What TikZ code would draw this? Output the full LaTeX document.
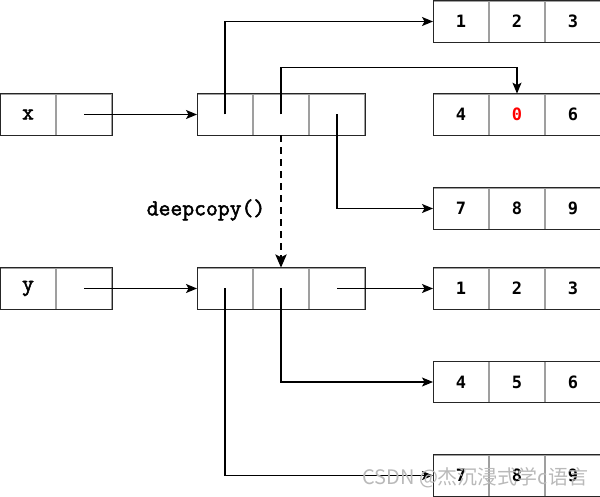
\documentclass[tikz,border=0pt]{standalone}
\usepackage{fontspec}
\newfontfamily\digitfont{DejaVu Sans Mono}
\newfontfamily\codefont{Latin Modern Mono}[FakeBold=2.2]
\newfontfamily\cjk{Noto Sans CJK SC}
\usetikzlibrary{arrows.meta}
\tikzset{
  cell/.style={draw=gray!75, line width=0.7pt, minimum width=55.3pt, minimum height=41pt, inner sep=0pt, anchor=west, font=\digitfont\bfseries\fontsize{17}{17}\selectfont},
  codetext/.style={font=\codefont\fontsize{23}{23}\selectfont},
  outline/.style={draw=black!85, line width=0.9pt},
  ptr/.style={line width=1.2pt, -{Stealth[length=11pt,width=9pt,inset=2.5pt]}},
  copyarrow/.style={line width=2.8pt, dash pattern=on 7pt off 5pt, -{Stealth[length=13pt,width=11pt,inset=2.5pt]}}
}
\begin{document}
\begin{tikzpicture}[x=1pt,y=-1pt]
\useasboundingbox (0,0) rectangle (600,497);
% variable x
\node[cell, codetext] (x1) at (0,114.5) {x};
\node[cell] (x2) at (x1.east) {};
\draw[outline] (x1.north west) rectangle (x2.south east);
% top list
\node[cell] (m1) at (197,114.5) {};
\node[cell] (m2) at (m1.east) {};
\node[cell] (m3) at (m2.east) {};
\draw[outline] (m1.north west) rectangle (m3.south east);
% right arrays top
\node[cell] (ra1) at (433,21.5) {1};
\node[cell] (ra2) at (ra1.east) {2};
\node[cell] (ra3) at (ra2.east) {3};
\draw[outline] (ra1.north west) rectangle (ra3.south east);
\node[cell] (rb1) at (433,114.5) {4};
\node[cell, text=red] (rb2) at (rb1.east) {0};
\node[cell] (rb3) at (rb2.east) {6};
\draw[outline] (rb1.north west) rectangle (rb3.south east);
\node[cell] (rc1) at (433,208.5) {7};
\node[cell] (rc2) at (rc1.east) {8};
\node[cell] (rc3) at (rc2.east) {9};
\draw[outline] (rc1.north west) rectangle (rc3.south east);
% variable y
\node[cell, codetext] (y1) at (0,288.5) {y};
\node[cell] (y2) at (y1.east) {};
\draw[outline] (y1.north west) rectangle (y2.south east);
% bottom list
\node[cell] (n1) at (197,288.5) {};
\node[cell] (n2) at (n1.east) {};
\node[cell] (n3) at (n2.east) {};
\draw[outline] (n1.north west) rectangle (n3.south east);
% right arrays bottom
\node[cell] (sa1) at (433,288.5) {1};
\node[cell] (sa2) at (sa1.east) {2};
\node[cell] (sa3) at (sa2.east) {3};
\draw[outline] (sa1.north west) rectangle (sa3.south east);
\node[cell] (sb1) at (433,382) {4};
\node[cell] (sb2) at (sb1.east) {5};
\node[cell] (sb3) at (sb2.east) {6};
\draw[outline] (sb1.north west) rectangle (sb3.south east);
\node[cell] (sc1) at (433,475.5) {7};
\node[cell] (sc2) at (sc1.east) {8};
\node[cell] (sc3) at (sc2.east) {9};
\draw[outline] (sc1.north west) rectangle (sc3.south east);
% connectors top
\draw[ptr] (x2.center) -- (m1.west);
\draw[ptr] (m1.center) |- (ra1.west);
\draw[ptr] (m2.center) |- ([yshift=26pt]rb2.north) -- (rb2.north);
\draw[ptr] (m3.center) |- (rc1.west);
% deepcopy
\draw[copyarrow] (m2.south) -- (n2.north);
\node[codetext] (dc) at (206,210) {deepcopy()};
% connectors bottom
\draw[ptr] (y2.center) -- (n1.west);
\draw[ptr] (n1.center) |- (sc1.west);
\draw[ptr] (n2.center) |- (sb1.west);
\draw[ptr] (n3.center) -- (sa1.west);
% watermark
\node[anchor=west, text=gray!55, font=\cjk\fontsize{20}{20}\selectfont, inner sep=0pt] (wm) at (362,478) {CSDN @杰沉浸式学c语言};
\end{tikzpicture}
\end{document}
